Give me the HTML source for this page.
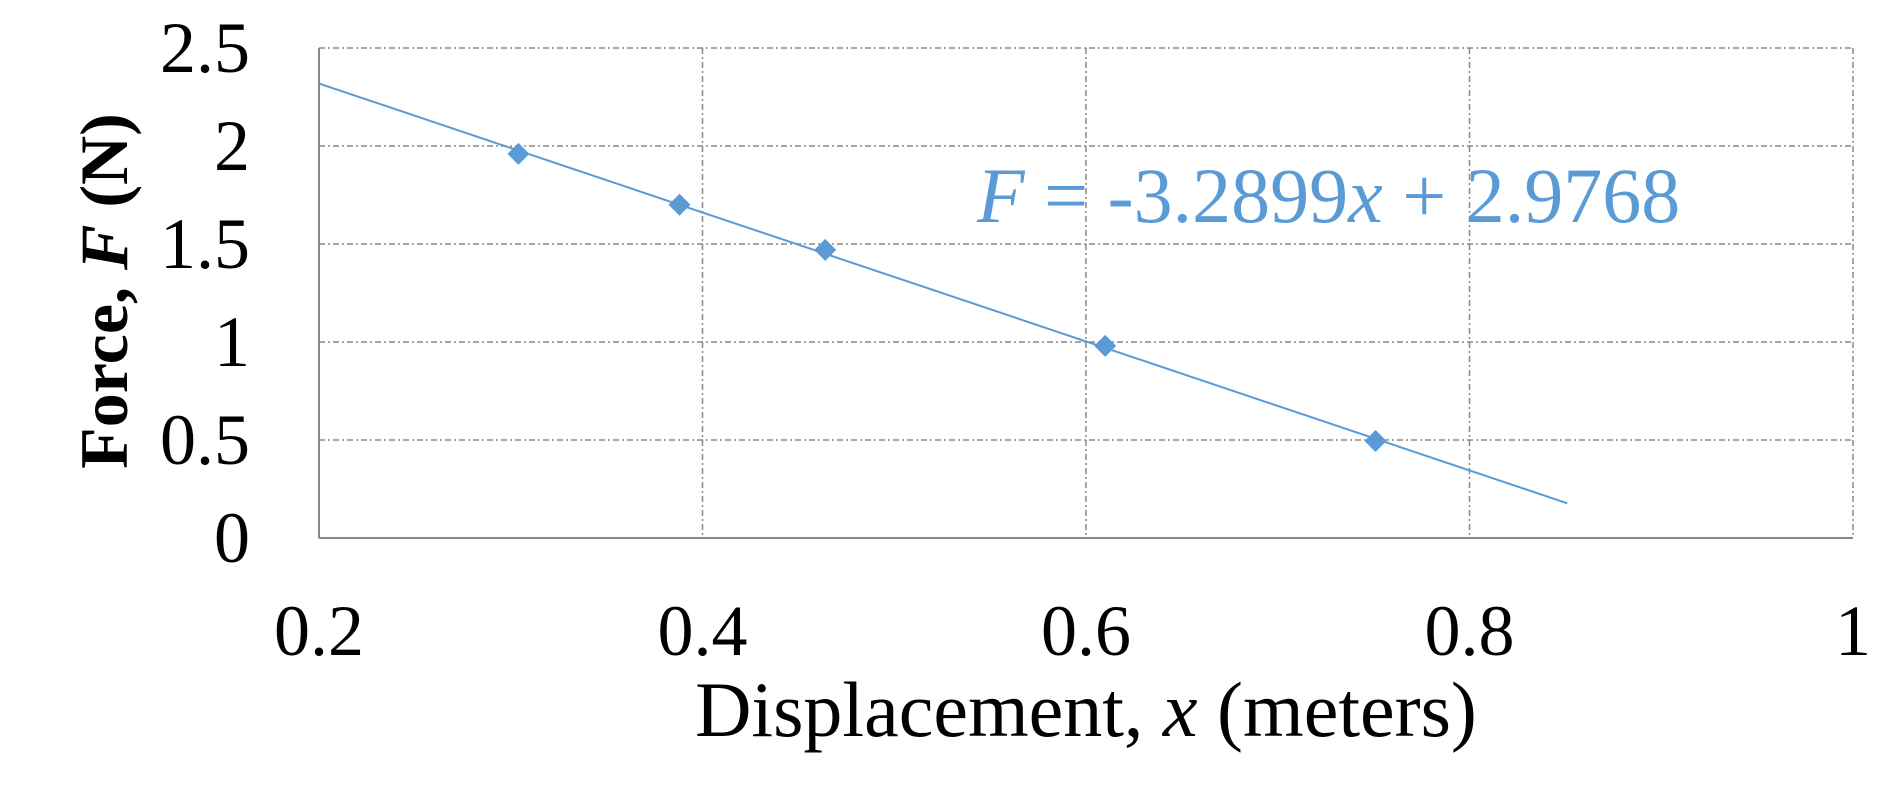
<!DOCTYPE html>
<html><head><meta charset="utf-8"><style>
html,body{margin:0;padding:0;background:#fff;}
svg text{font-family:"Liberation Serif",serif;}
</style></head><body>
<svg width="1892" height="801" viewBox="0 0 1892 801">
<g id="grid"></g>
<g id="axes"></g>
<g id="marks"></g>
<text x="977" y="222" font-size="78" fill="#5b9bd5"><tspan font-style="italic">F</tspan> = -3.2899<tspan font-style="italic">x</tspan> + 2.9768</text>
<text x="1086" y="736" font-size="78" text-anchor="middle" fill="#000">Displacement, <tspan font-style="italic">x</tspan> (meters)</text>
<text transform="translate(127,291) rotate(-90)" font-size="68" font-weight="bold" text-anchor="middle" fill="#000">Force, <tspan font-style="italic">F</tspan> (N)</text>
</svg>
<script>
const xTicks=[0.2,0.4,0.6,0.8,1];
const xTickLabels=["0.2","0.4","0.6","0.8","1"];
const yTicks=[0,0.5,1,1.5,2,2.5];
const yTickLabels=["0","0.5","1","1.5","2","2.5"];
const xValues=[0.304,0.388,0.464,0.610,0.751];
const yValues=[1.96,1.70,1.47,0.98,0.495];
const slope=-3.2899, intercept=2.9768;
const trendRange=[0.2,0.851];
const NS="http://www.w3.org/2000/svg";
const L=319,R=1853,T=48,B=538;
const sx=v=>L+(v-0.2)/(1-0.2)*(R-L);
const sy=v=>B-(v/2.5)*(B-T);
function mk(tag,attrs,parent){const e=document.createElementNS(NS,tag);for(const k in attrs)e.setAttribute(k,attrs[k]);parent.appendChild(e);return e;}
const grid=document.getElementById('grid'),axes=document.getElementById('axes'),marks=document.getElementById('marks');
yTicks.forEach((t,i)=>{
  if(t>0){const g=mk('line',{x1:L,x2:R,y1:sy(t),y2:sy(t),stroke:'#888','stroke-width':1.5,'stroke-dasharray':'6 3 2 3'},grid);
  
  }
  const tx=mk('text',{x:250,y:sy(t)+24,'font-size':72,'text-anchor':'end',fill:'#000'},axes);
  tx.textContent=yTickLabels[i];
  
  
});
xTicks.forEach((t,i)=>{
  if(t>0.2){const g=mk('line',{x1:sx(t),x2:sx(t),y1:T,y2:B,stroke:'#888','stroke-width':1.5,'stroke-dasharray':'6 3 2 3'},grid);
  
  }
  const tx=mk('text',{x:sx(t),y:655,'font-size':72,'text-anchor':'middle',fill:'#000'},axes);
  tx.textContent=xTickLabels[i];
  
  
});
const ax=mk('line',{x1:L,x2:R,y1:B,y2:B,stroke:'#888','stroke-width':2},axes);


const ay=mk('line',{x1:L,x2:L,y1:T,y2:B,stroke:'#888','stroke-width':2},axes);


const tl=mk('line',{x1:sx(trendRange[0]),y1:sy(slope*trendRange[0]+intercept),x2:sx(trendRange[1]),y2:sy(slope*trendRange[1]+intercept),stroke:'#5b9bd5','stroke-width':2},marks);


xValues.forEach((x,i)=>{
  const cx=sx(x),cy=sy(yValues[i]),s=11;
  const p=mk('polygon',{points:`${cx},${cy-s} ${cx+s},${cy} ${cx},${cy+s} ${cx-s},${cy}`,fill:'#5b9bd5'},marks);
  
  
});
</script>
</body></html>
